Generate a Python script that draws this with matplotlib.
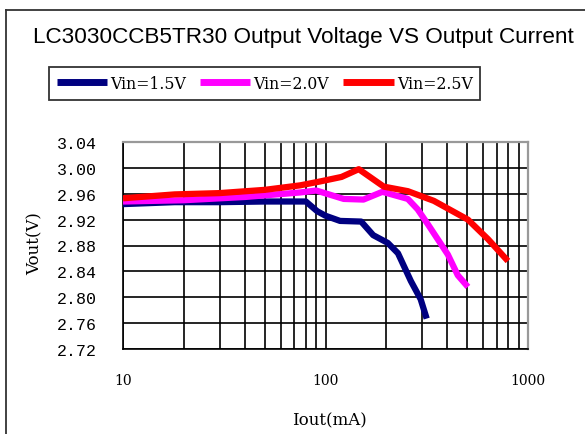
import numpy as np
import matplotlib
matplotlib.use('Agg')
import matplotlib.pyplot as plt
from matplotlib.lines import Line2D
from matplotlib.ticker import FixedLocator, NullFormatter

# Iout (mA) and Vout (V)
iout_15 = [10, 18, 30, 50, 80, 91, 100, 118, 150, 172, 203, 228, 264, 295, 316]
vout_15 = [2.944, 2.947, 2.947, 2.948, 2.948, 2.933, 2.926, 2.918, 2.917, 2.896,
           2.884, 2.868, 2.825, 2.797, 2.767]

iout_20 = [10, 20, 40, 75, 90, 123, 154, 191, 255, 285, 320, 402, 450, 505]
vout_20 = [2.948, 2.950, 2.955, 2.962, 2.965, 2.952, 2.951, 2.963, 2.952, 2.936,
           2.913, 2.866, 2.834, 2.816]

iout_25 = [10, 18, 30, 50, 75, 94, 120, 146, 194, 255, 343, 505, 634, 796]
vout_25 = [2.953, 2.959, 2.961, 2.966, 2.973, 2.979, 2.986, 2.998, 2.971, 2.964,
           2.949, 2.920, 2.890, 2.856]

series_labels = ['Vin=1.5V', 'Vin=2.0V', 'Vin=2.5V']
series_colors = ['#000080', '#ff00ff', '#ff0000']

y_ticks = [2.72, 2.76, 2.80, 2.84, 2.88, 2.92, 2.96, 3.00, 3.04]
x_ticks = [10, 100, 1000]
x_ticklabels = ['10', '100', '1000']

W, H = 585, 435
fig = plt.figure(figsize=(W / 100, H / 100), dpi=100)

# outer frame (runs off the right and bottom edge)
fig.add_artist(Line2D([6 / W, 1.0], [1 - 11 / H, 1 - 11 / H], color='#333333', lw=1.3))
fig.add_artist(Line2D([6 / W, 6 / W], [0.0, 1 - 11 / H], color='#333333', lw=1.3))

left, right, top, bottom = 123, 528, 143, 350
ax = fig.add_axes([left / W, 1 - bottom / H, (right - left) / W, (bottom - top) / H])

for xs, ys, lab, col in zip([iout_15, iout_20, iout_25], [vout_15, vout_20, vout_25],
                            series_labels, series_colors):
    ax.plot(xs, ys, color=col, lw=4.5, label=lab, solid_capstyle='butt', zorder=3)

ax.set_xscale('log')
ax.set_xlim(10, 1000)
ax.set_ylim(2.72, 3.04)

minor = [m * d for d in (10, 100) for m in range(2, 10)]
ax.xaxis.set_major_locator(FixedLocator(x_ticks))
ax.xaxis.set_minor_locator(FixedLocator(minor))
ax.xaxis.set_minor_formatter(NullFormatter())
ax.set_xticklabels(x_ticklabels, fontfamily='DejaVu Serif', fontsize=10)
ax.set_yticks(y_ticks)
ax.set_yticklabels(['%.2f' % v for v in y_ticks], fontfamily='Liberation Mono', fontsize=12)
ax.tick_params(which='both', length=0)
ax.tick_params(axis='x', pad=17)
ax.tick_params(axis='y', pad=19)

ax.grid(which='both', color='black', lw=1.2, zorder=1)
for s in ('left', 'bottom'):
    ax.spines[s].set_color('black')
    ax.spines[s].set_linewidth(1.2)
for s in ('top', 'right'):
    ax.spines[s].set_color('#999999')
    ax.spines[s].set_linewidth(1.6)

fig.text(303 / W, 1 - 37 / H, 'LC3030CCB5TR30 Output Voltage VS Output Current',
         ha='center', va='center', fontsize=16.2, fontfamily='Liberation Sans')
fig.text(329 / W, 1 - 421 / H, 'Iout(mA)', ha='center', va='center',
         fontsize=12, fontfamily='DejaVu Serif')
fig.text(35 / W, 1 - 244 / H, 'Vout(V)', ha='center', va='center', rotation=90,
         fontsize=12, fontfamily='DejaVu Serif')

leg = fig.legend(loc='upper left', bbox_to_anchor=(49 / W, 1 - 68 / H), ncol=3,
                 frameon=True, fancybox=False, borderaxespad=0, borderpad=0.5,
                 handlelength=3.2, handletextpad=0.2, columnspacing=0.9,
                 prop={'family': 'DejaVu Serif', 'size': 11.3})
leg.get_frame().set_edgecolor('black')
leg.get_frame().set_linewidth(1.3)
for h in leg.get_lines():
    h.set_linewidth(5)

fig.savefig('out.png', dpi=100)
